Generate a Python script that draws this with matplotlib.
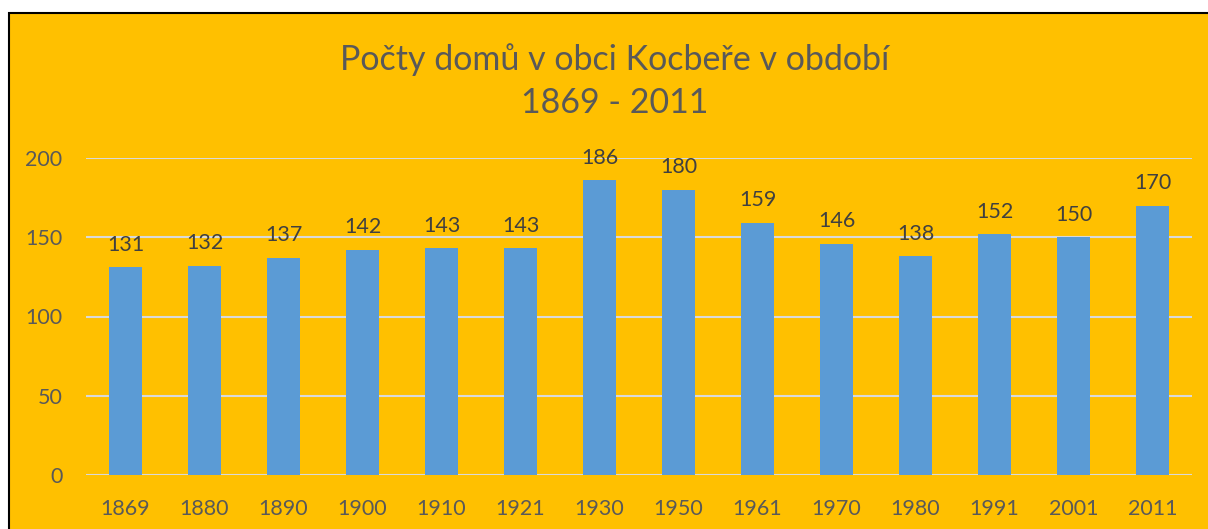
import matplotlib.pyplot as plt
from matplotlib.patches import Rectangle

# data
roky = ['1869', '1880', '1890', '1900', '1910', '1921', '1930',
        '1950', '1961', '1970', '1980', '1991', '2001', '2011']
domy = [131, 132, 137, 142, 143, 143, 186, 180, 159, 146, 138, 152, 150, 170]
yticks = [0, 50, 100, 150, 200]

plt.rcParams['font.family'] = ['Lato', 'DejaVu Sans']

W, H = 1208, 529
fig = plt.figure(figsize=(W / 100, H / 100), dpi=100, facecolor='white')

# orange chart area with black border on top/left
bg = Rectangle((9 / W, -0.05), 1.2, (H - 13) / H + 0.05, transform=fig.transFigure,
               facecolor='#FFC000', edgecolor='black', linewidth=1.5, zorder=-1)
fig.patches.append(bg)

ax = fig.add_axes([86 / W, 54 / H, (1192 - 86) / W, (475 - 158) / H])
ax.set_facecolor('none')

x = range(len(roky))
bars = ax.bar(x, domy, width=0.41, color='#5B9BD5', zorder=3)

for xi, v in zip(x, domy):
    ax.annotate(str(v), (xi, v), xytext=(0, 9), textcoords='offset points',
                ha='center', va='bottom', fontsize=15.5, color='#404040')

ax.set_xlim(-0.5, len(roky) - 0.5)
ax.set_ylim(0, 200)
ax.set_yticks(yticks)
ax.set_xticks(list(x))
ax.set_xticklabels(roky)
ax.tick_params(length=0, labelsize=15.5, labelcolor='#595959')
ax.tick_params(axis='y', pad=17)
ax.tick_params(axis='x', pad=17)
ax.yaxis.grid(True, color='#D9D9D9', linewidth=1.5, zorder=0)
ax.set_axisbelow(True)
for s in ax.spines.values():
    s.set_visible(False)

fig.text(615 / W, 1 - 60 / H, 'Počty domů v obci Kocbeře v období',
         ha='center', va='center', fontsize=24.5, color='#595959')
fig.text(615 / W, 1 - 103 / H, '1869 - 2011',
         ha='center', va='center', fontsize=24.5, color='#595959')

fig.savefig('out.png', dpi=100, facecolor=fig.get_facecolor())
